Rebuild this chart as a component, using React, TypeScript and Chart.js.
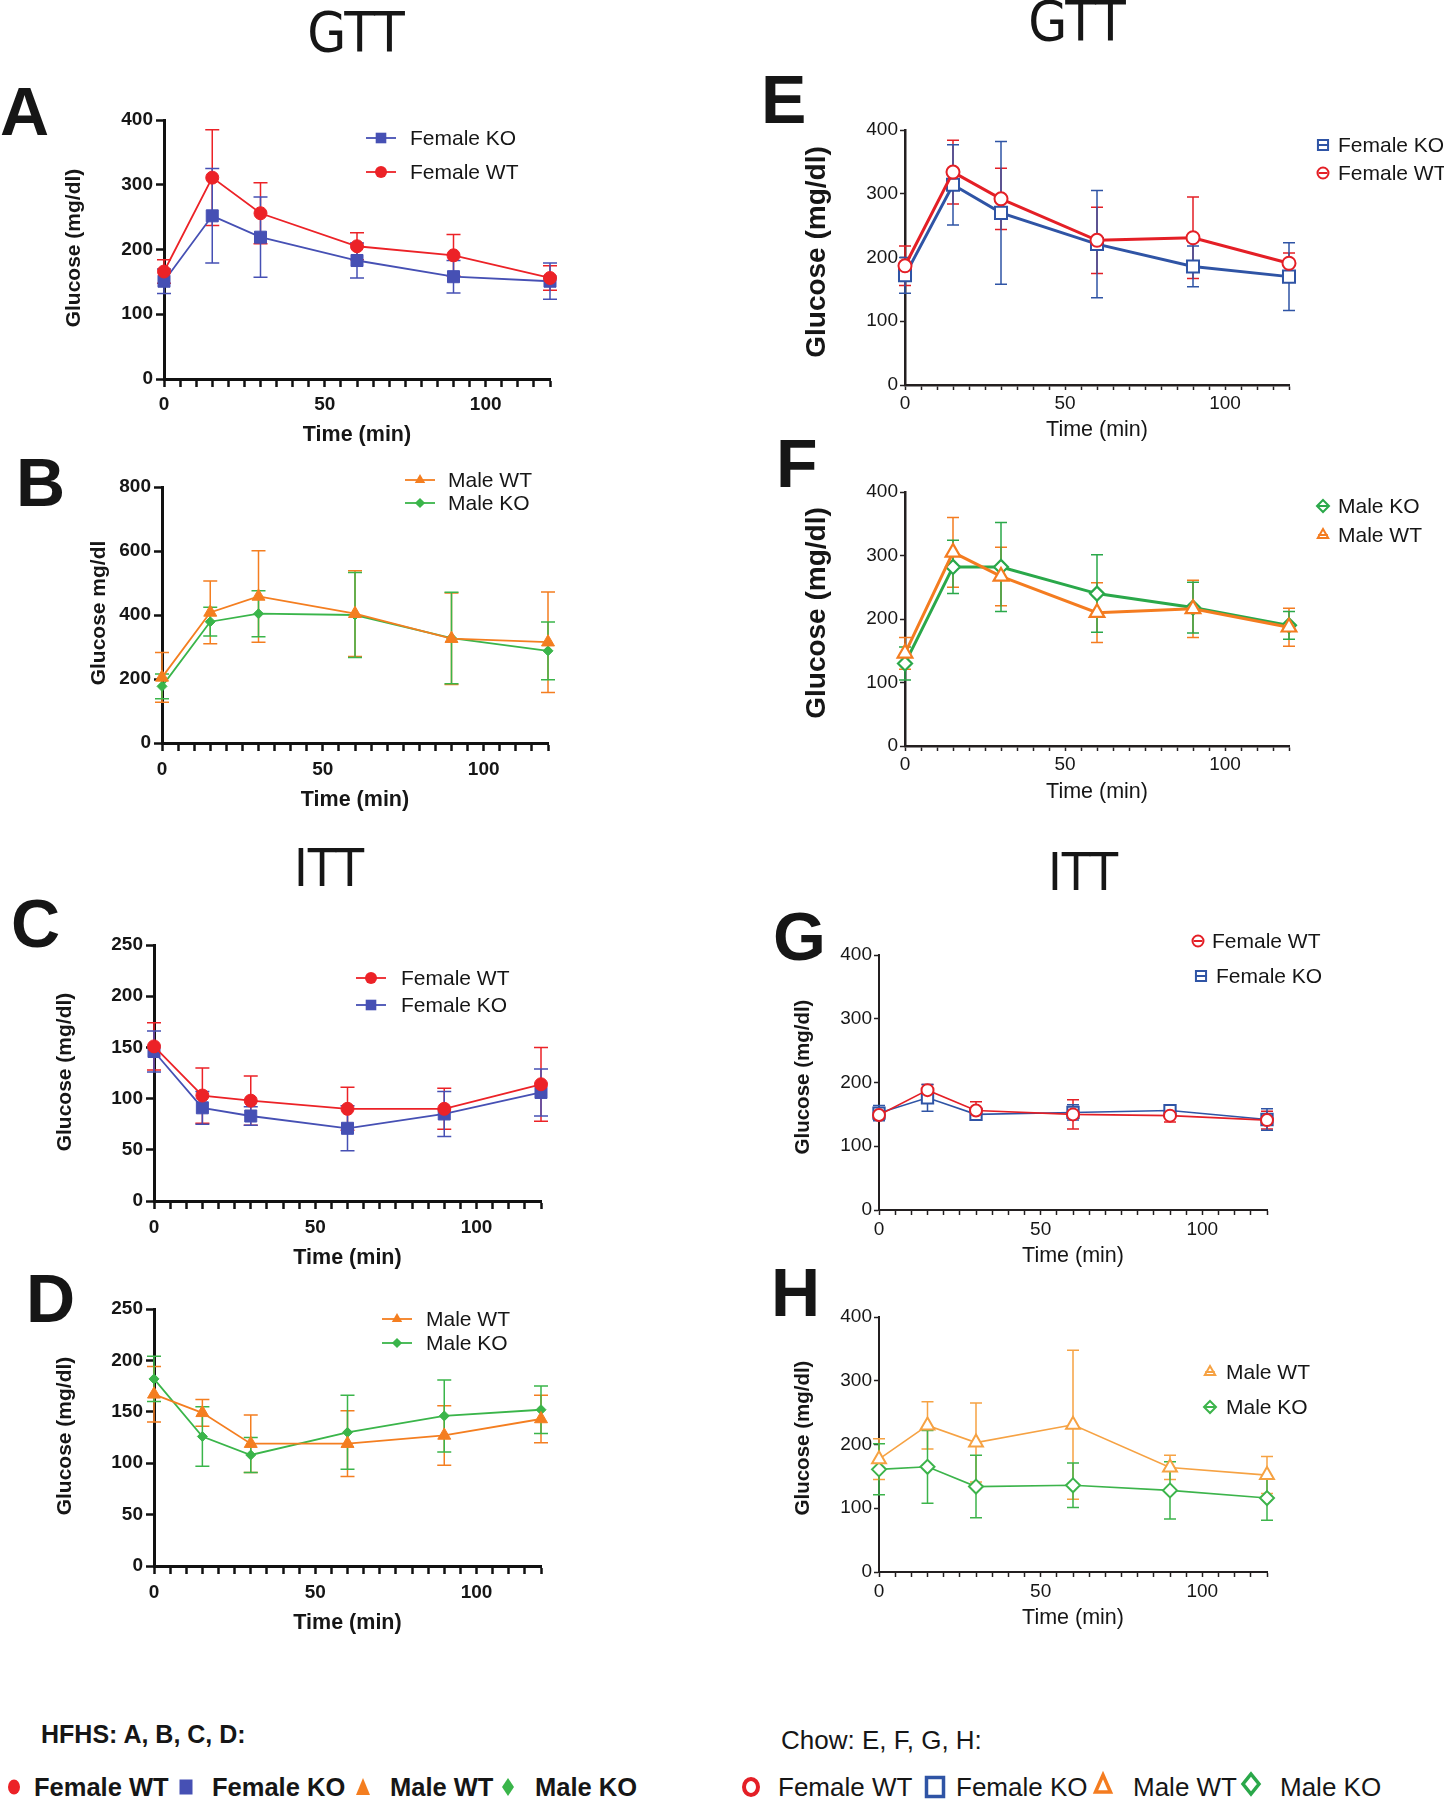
import React, { useEffect, useRef } from "react";
import { Chart, registerables } from "chart.js";

Chart.register(...registerables);

// ---------------- data ----------------
const timeMin = [0, 15, 30, 60, 90, 120];
const xTickLabels = [0, 50, 100];
const xTitle = "Time (min)";

// A: HFHS GTT, females
const aFemaleKO = [151, 252, 219, 183, 158, 151];
const aFemaleKOSd = [19, 73, 62, 27, 25, 28];
const aFemaleWT = [166, 311, 256, 205, 191, 156];
const aFemaleWTSd = [18, 74, 47, 21, 32, 19];

// B: HFHS GTT, males
const bMaleWT = [205, 408, 458, 404, 326, 315];
const bMaleWTSd = [78, 98, 143, 134, 143, 157];
const bMaleKO = [177, 379, 404, 400, 328, 288];
const bMaleKOSd = [39, 45, 72, 133, 143, 90];

// C: HFHS ITT, females
const cFemaleWT = [151, 103, 98, 90, 90, 114];
const cFemaleWTSd = [23, 27, 24, 21, 20, 36];
const cFemaleKO = [146, 91, 83, 71, 85, 106];
const cFemaleKOSd = [20, 16, 9, 22, 22, 23];

// D: HFHS ITT, males
const dMaleWT = [167, 149, 119, 119, 127, 143];
const dMaleWTSd = [27, 13, 28, 32, 29, 23];
const dMaleKO = [182, 126, 108, 130, 146, 152];
const dMaleKOSd = [22, 29, 17, 36, 35, 23];

// E: Chow GTT, females
const eFemaleKO = [172, 314, 270, 221, 186, 170];
const eFemaleKOSd = [28, 63, 112, 84, 32, 53];
const eFemaleWT = [187, 334, 292, 227, 231, 191];
const eFemaleWTSd = [31, 50, 48, 52, 64, 16];

// F: Chow GTT, males
const fMaleKO = [130, 282, 282, 240, 218, 190];
const fMaleKOSd = [26, 42, 70, 61, 40, 22];
const fMaleWT = [146, 305, 267, 210, 216, 187];
const fMaleWTSd = [25, 55, 46, 47, 45, 30];

// G: Chow ITT, females
const gFemaleWT = [149, 188, 156, 150, 148, 141];
const gFemaleWTSd = [8, 9, 14, 23, 10, 14];
const gFemaleKO = [152, 176, 150, 153, 156, 142];
const gFemaleKOSd = [12, 21, 9, 12, 7, 17];

// H: Chow ITT, males
const hMaleWT = [177, 230, 203, 231, 164, 152];
const hMaleWTSd = [32, 37, 62, 117, 19, 29];
const hMaleKO = [161, 165, 134, 136, 128, 116];
const hMaleKOSd = [40, 57, 49, 35, 45, 35];

// y-axis ranges
const yMaxGTT = 400;
const yStepGTT = 100;
const yMaxB = 800;
const yStepB = 200;
const yMaxITTHfhs = 250;
const yStepITTHfhs = 50;

// ---------------- styles ----------------
const FONT = "'Liberation Sans', Arial, Helvetica, sans-serif";
const NARROW = "'Liberation Sans Narrow', 'Arial Narrow', 'DejaVu Sans Condensed', sans-serif";
const INK = "#161616";

const C_RED = "#ec2227";
const C_BLUE = "#4650b4";
const C_ORANGE = "#f47e20";
const C_GREEN = "#3ab54a";
const K_RED = "#e41f26";
const K_BLUE = "#2f54a5";
const K_ORANGE = "#f47c20";
const K_GREEN = "#2aa84a";
const K_ORANGE_H = "#f6a243";
const K_GREEN_H = "#3cb44b";

type Shape = "circle" | "rect" | "triangle" | "rectRot";

type SeriesSpec = {
  label: string;
  values: number[];
  sd: number[];
  color: string;
  shape: Shape;
  radius: number;
  open: boolean;
};

type LegendItem = { series: number; mx: number; my: number; tx: number };

type PanelSpec = {
  id: string;
  style: "hfhs" | "chow";
  box: [number, number, number, number];
  plot: [number, number, number, number];
  yMax: number;
  yStep: number;
  yTitle: string;
  yTitlePos: [number, number];
  yTitleSize: number;
  xTitleY: number;
  xTitleSize: number;
  tickSize: number;
  xTickPad: number;
  yTickPad: number;
  tickLength: number;
  borderWidth: number;
  lineWidth: number;
  errWidth: number;
  cap: number;
  pointBorder: number;
  series: SeriesSpec[];
  legend: LegendItem[];
  legendSize: number;
  legendR: number;
};

const panels: PanelSpec[] = [
  {
    id: "A", style: "hfhs",
    box: [40, 90, 620, 462], plot: [164, 120, 550, 379],
    yMax: yMaxGTT, yStep: yStepGTT,
    yTitle: "Glucose (mg/dl)", yTitlePos: [74, 248], yTitleSize: 21,
    xTitleY: 435, xTitleSize: 21.5, tickSize: 19, xTickPad: 6, yTickPad: 3,
    tickLength: 8, borderWidth: 3, lineWidth: 1.8, errWidth: 1.5, cap: 7, pointBorder: 1,
    series: [
      { label: "Female WT", values: aFemaleWT, sd: aFemaleWTSd, color: C_RED, shape: "circle", radius: 6.5, open: false },
      { label: "Female KO", values: aFemaleKO, sd: aFemaleKOSd, color: C_BLUE, shape: "rect", radius: 8.5, open: false },
    ],
    legend: [
      { series: 1, mx: 381, my: 138, tx: 410 },
      { series: 0, mx: 381, my: 172, tx: 410 },
    ],
    legendSize: 21, legendR: 6,
  },
  {
    id: "B", style: "hfhs",
    box: [60, 462, 620, 826], plot: [162, 487, 548, 743],
    yMax: yMaxB, yStep: yStepB,
    yTitle: "Glucose mg/dl", yTitlePos: [99, 613], yTitleSize: 21,
    xTitleY: 800, xTitleSize: 21.5, tickSize: 19, xTickPad: 7, yTickPad: 3,
    tickLength: 8, borderWidth: 3, lineWidth: 1.8, errWidth: 1.5, cap: 7, pointBorder: 1,
    series: [
      { label: "Male WT", values: bMaleWT, sd: bMaleWTSd, color: C_ORANGE, shape: "triangle", radius: 7.5, open: false },
      { label: "Male KO", values: bMaleKO, sd: bMaleKOSd, color: C_GREEN, shape: "rectRot", radius: 5, open: false },
    ],
    legend: [
      { series: 0, mx: 420, my: 480, tx: 448 },
      { series: 1, mx: 420, my: 503, tx: 448 },
    ],
    legendSize: 21, legendR: 6,
  },
  {
    id: "C", style: "hfhs",
    box: [30, 915, 620, 1282], plot: [154, 945, 541, 1201],
    yMax: yMaxITTHfhs, yStep: yStepITTHfhs,
    yTitle: "Glucose (mg/dl)", yTitlePos: [65, 1072], yTitleSize: 21,
    xTitleY: 1258, xTitleSize: 21.5, tickSize: 19, xTickPad: 7, yTickPad: 3,
    tickLength: 8, borderWidth: 3, lineWidth: 1.8, errWidth: 1.5, cap: 7, pointBorder: 1,
    series: [
      { label: "Female WT", values: cFemaleWT, sd: cFemaleWTSd, color: C_RED, shape: "circle", radius: 6.5, open: false },
      { label: "Female KO", values: cFemaleKO, sd: cFemaleKOSd, color: C_BLUE, shape: "rect", radius: 8.5, open: false },
    ],
    legend: [
      { series: 0, mx: 371, my: 978, tx: 401 },
      { series: 1, mx: 371, my: 1005, tx: 401 },
    ],
    legendSize: 21, legendR: 6,
  },
  {
    id: "D", style: "hfhs",
    box: [30, 1282, 620, 1650], plot: [154, 1309, 541, 1566],
    yMax: yMaxITTHfhs, yStep: yStepITTHfhs,
    yTitle: "Glucose (mg/dl)", yTitlePos: [65, 1436], yTitleSize: 21,
    xTitleY: 1623, xTitleSize: 21.5, tickSize: 19, xTickPad: 7, yTickPad: 3,
    tickLength: 8, borderWidth: 3, lineWidth: 1.8, errWidth: 1.5, cap: 7, pointBorder: 1,
    series: [
      { label: "Male WT", values: dMaleWT, sd: dMaleWTSd, color: C_ORANGE, shape: "triangle", radius: 7.5, open: false },
      { label: "Male KO", values: dMaleKO, sd: dMaleKOSd, color: C_GREEN, shape: "rectRot", radius: 5, open: false },
    ],
    legend: [
      { series: 0, mx: 397, my: 1319, tx: 426 },
      { series: 1, mx: 397, my: 1343, tx: 426 },
    ],
    legendSize: 21, legendR: 6,
  },
  {
    id: "E", style: "chow",
    box: [780, 100, 1444, 455], plot: [905, 130, 1289, 385],
    yMax: yMaxGTT, yStep: yStepGTT,
    yTitle: "Glucose (mg/dl)", yTitlePos: [817, 252], yTitleSize: 28,
    xTitleY: 430, xTitleSize: 21.5, tickSize: 19, xTickPad: 2, yTickPad: 2,
    tickLength: 5, borderWidth: 2.5, lineWidth: 3, errWidth: 1.5, cap: 6, pointBorder: 2,
    series: [
      { label: "Female WT", values: eFemaleWT, sd: eFemaleWTSd, color: K_RED, shape: "circle", radius: 6.5, open: true },
      { label: "Female KO", values: eFemaleKO, sd: eFemaleKOSd, color: K_BLUE, shape: "rect", radius: 8.5, open: true },
    ],
    legend: [
      { series: 1, mx: 1323, my: 145, tx: 1338 },
      { series: 0, mx: 1323, my: 173, tx: 1338 },
    ],
    legendSize: 21, legendR: 5.5,
  },
  {
    id: "F", style: "chow",
    box: [780, 460, 1444, 815], plot: [905, 492, 1289, 746],
    yMax: yMaxGTT, yStep: yStepGTT,
    yTitle: "Glucose (mg/dl)", yTitlePos: [817, 613], yTitleSize: 28,
    xTitleY: 792, xTitleSize: 21.5, tickSize: 19, xTickPad: 2, yTickPad: 2,
    tickLength: 5, borderWidth: 2.5, lineWidth: 3, errWidth: 1.5, cap: 6, pointBorder: 2.2,
    series: [
      { label: "Male WT", values: fMaleWT, sd: fMaleWTSd, color: K_ORANGE, shape: "triangle", radius: 8.5, open: true },
      { label: "Male KO", values: fMaleKO, sd: fMaleKOSd, color: K_GREEN, shape: "rectRot", radius: 7, open: true },
    ],
    legend: [
      { series: 1, mx: 1323, my: 506, tx: 1338 },
      { series: 0, mx: 1323, my: 535, tx: 1338 },
    ],
    legendSize: 21, legendR: 6,
  },
  {
    id: "G", style: "chow",
    box: [770, 925, 1444, 1285], plot: [879, 955, 1267, 1210],
    yMax: yMaxGTT, yStep: yStepGTT,
    yTitle: "Glucose (mg/dl)", yTitlePos: [803, 1077], yTitleSize: 20.5,
    xTitleY: 1256, xTitleSize: 21.5, tickSize: 19, xTickPad: 3, yTickPad: 2,
    tickLength: 5, borderWidth: 2, lineWidth: 1.6, errWidth: 1.5, cap: 6, pointBorder: 2,
    series: [
      { label: "Female WT", values: gFemaleWT, sd: gFemaleWTSd, color: K_RED, shape: "circle", radius: 6, open: true },
      { label: "Female KO", values: gFemaleKO, sd: gFemaleKOSd, color: K_BLUE, shape: "rect", radius: 8, open: true },
    ],
    legend: [
      { series: 0, mx: 1198, my: 941, tx: 1212 },
      { series: 1, mx: 1201, my: 976, tx: 1216 },
    ],
    legendSize: 21, legendR: 5.5,
  },
  {
    id: "H", style: "chow",
    box: [770, 1290, 1444, 1650], plot: [879, 1317, 1267, 1572],
    yMax: yMaxGTT, yStep: yStepGTT,
    yTitle: "Glucose (mg/dl)", yTitlePos: [803, 1438], yTitleSize: 20.5,
    xTitleY: 1618, xTitleSize: 21.5, tickSize: 19, xTickPad: 3, yTickPad: 2,
    tickLength: 5, borderWidth: 2, lineWidth: 1.6, errWidth: 1.5, cap: 6, pointBorder: 2,
    series: [
      { label: "Male WT", values: hMaleWT, sd: hMaleWTSd, color: K_ORANGE_H, shape: "triangle", radius: 8, open: true },
      { label: "Male KO", values: hMaleKO, sd: hMaleKOSd, color: K_GREEN_H, shape: "rectRot", radius: 7, open: true },
    ],
    legend: [
      { series: 0, mx: 1210, my: 1372, tx: 1226 },
      { series: 1, mx: 1210, my: 1407, tx: 1226 },
    ],
    legendSize: 21, legendR: 6,
  },
];

// ---------------- drawing helpers ----------------
function pathMarker(ctx: CanvasRenderingContext2D, shape: Shape, x: number, y: number, r: number) {
  ctx.beginPath();
  if (shape === "circle") {
    ctx.arc(x, y, r, 0, Math.PI * 2);
  } else if (shape === "rect") {
    const s = r * Math.SQRT1_2;
    ctx.rect(x - s, y - s, 2 * s, 2 * s);
  } else if (shape === "triangle") {
    let a = 0;
    ctx.moveTo(x + Math.sin(a) * r, y - Math.cos(a) * r);
    a += (2 * Math.PI) / 3;
    ctx.lineTo(x + Math.sin(a) * r, y - Math.cos(a) * r);
    a += (2 * Math.PI) / 3;
    ctx.lineTo(x + Math.sin(a) * r, y - Math.cos(a) * r);
    ctx.closePath();
  } else {
    ctx.moveTo(x, y - r);
    ctx.lineTo(x + r, y);
    ctx.lineTo(x, y + r);
    ctx.lineTo(x - r, y);
    ctx.closePath();
  }
}

function PanelChart({ spec }: { spec: PanelSpec }) {
  const ref = useRef<HTMLCanvasElement | null>(null);
  const [bl, bt, br, bb] = spec.box;
  const [pl, pt, pr, pb] = spec.plot;
  const w = br - bl;
  const h = bb - bt;

  useEffect(() => {
    if (!ref.current) return;
    const hf = spec.style === "hfhs";
    const axisColor = hf ? "#111111" : "#231f20";
    const tickFont = { family: FONT, size: spec.tickSize, weight: hf ? ("bold" as const) : ("normal" as const) };

    const errorBars = {
      id: "errorBars",
      beforeDatasetsDraw(chart: any) {
        const ctx: CanvasRenderingContext2D = chart.ctx;
        const ys = chart.scales.y;
        spec.series.forEach((s, i) => {
          const meta = chart.getDatasetMeta(i);
          ctx.save();
          ctx.strokeStyle = s.color;
          ctx.lineWidth = spec.errWidth;
          meta.data.forEach((p: any, j: number) => {
            const x = p.x;
            const yt = ys.getPixelForValue(s.values[j] + s.sd[j]);
            const yb = ys.getPixelForValue(s.values[j] - s.sd[j]);
            ctx.beginPath();
            ctx.moveTo(x, yt);
            ctx.lineTo(x, yb);
            ctx.moveTo(x - spec.cap, yt);
            ctx.lineTo(x + spec.cap, yt);
            ctx.moveTo(x - spec.cap, yb);
            ctx.lineTo(x + spec.cap, yb);
            ctx.stroke();
          });
          ctx.restore();
        });
      },
    };

    const decor = {
      id: "decor",
      afterDraw(chart: any) {
        const ctx: CanvasRenderingContext2D = chart.ctx;
        const { left, right } = chart.chartArea;
        ctx.save();
        ctx.fillStyle = INK;
        // y title
        ctx.save();
        ctx.translate(spec.yTitlePos[0] - bl, spec.yTitlePos[1] - bt);
        ctx.rotate(-Math.PI / 2);
        ctx.font = `bold ${spec.yTitleSize}px ${FONT}`;
        ctx.textAlign = "center";
        ctx.textBaseline = "middle";
        ctx.fillText(spec.yTitle, 0, 0);
        ctx.restore();
        // x title
        ctx.font = `${hf ? "bold " : ""}${spec.xTitleSize}px ${FONT}`;
        ctx.textAlign = "center";
        ctx.textBaseline = "middle";
        ctx.fillText(xTitle, (left + right) / 2, spec.xTitleY - bt);
        // legend
        spec.legend.forEach((it) => {
          const s = spec.series[it.series];
          const mx = it.mx - bl;
          const my = it.my - bt;
          if (hf) {
            ctx.strokeStyle = s.color;
            ctx.lineWidth = spec.lineWidth;
            ctx.beginPath();
            ctx.moveTo(mx - 15, my);
            ctx.lineTo(mx + 15, my);
            ctx.stroke();
            const r = s.shape === "rect" ? spec.legendR * 1.25 : s.shape === "rectRot" ? spec.legendR * 0.85 : spec.legendR;
            pathMarker(ctx, s.shape, mx, my, r);
            ctx.fillStyle = s.color;
            ctx.fill();
          } else {
            const r = s.shape === "rect" ? spec.legendR * 1.3 : spec.legendR;
            pathMarker(ctx, s.shape, mx, my, r);
            ctx.fillStyle = "#ffffff";
            ctx.fill();
            ctx.strokeStyle = s.color;
            ctx.lineWidth = 2;
            ctx.stroke();
            const hw = s.shape === "rect" ? r * Math.SQRT1_2 : r * 0.8;
            ctx.beginPath();
            ctx.moveTo(mx - hw, my);
            ctx.lineTo(mx + hw, my);
            ctx.stroke();
          }
          ctx.fillStyle = INK;
          ctx.font = `${spec.legendSize}px ${FONT}`;
          ctx.textAlign = "left";
          ctx.textBaseline = "middle";
          ctx.fillText(s.label, it.tx - bl, my + 1);
        });
        ctx.restore();
      },
    };

    const chart = new Chart(ref.current, {
      type: "line",
      data: {
        datasets: spec.series.map((s) => ({
          label: s.label,
          data: timeMin.map((t, i) => ({ x: t, y: s.values[i] })),
          borderColor: s.color,
          borderWidth: spec.lineWidth,
          backgroundColor: s.color,
          pointStyle: s.shape,
          pointRadius: s.radius,
          pointBackgroundColor: s.open ? "#ffffff" : s.color,
          pointBorderColor: s.color,
          pointBorderWidth: spec.pointBorder,
          fill: false,
          tension: 0,
          clip: false as any,
        })),
      },
      options: {
        animation: false,
        responsive: false,
        maintainAspectRatio: false,
        events: [],
        layout: { padding: { left: 0, top: pt - bt, right: br - pr, bottom: 0 } },
        plugins: {
          legend: { display: false },
          tooltip: { enabled: false },
          title: { display: false },
        },
        scales: {
          x: {
            type: "linear",
            min: 0,
            max: 120,
            afterFit: (s: any) => {
              s.height = bb - pb;
            },
            ticks: {
              stepSize: 5,
              autoSkip: false,
              maxRotation: 0,
              padding: spec.xTickPad,
              color: INK,
              font: tickFont,
              callback: (v: any) => (xTickLabels.includes(Number(v)) ? String(v) : ""),
            },
            grid: {
              drawOnChartArea: false,
              drawTicks: true,
              tickLength: spec.tickLength,
              tickWidth: hf ? 2.5 : 1.5,
              tickColor: axisColor,
            },
            border: { display: true, color: axisColor, width: spec.borderWidth },
            title: { display: false },
          },
          y: {
            type: "linear",
            min: 0,
            max: spec.yMax,
            afterFit: (s: any) => {
              s.width = pl - bl;
            },
            ticks: {
              stepSize: spec.yStep,
              padding: spec.yTickPad,
              color: INK,
              font: tickFont,
            },
            grid: {
              drawOnChartArea: false,
              drawTicks: true,
              tickLength: spec.tickLength,
              tickWidth: hf ? 2.5 : 1.5,
              tickColor: axisColor,
            },
            border: { display: true, color: axisColor, width: spec.borderWidth },
            title: { display: false },
          },
        },
      },
      plugins: [errorBars, decor],
    } as any);
    return () => chart.destroy();
  }, [spec]);

  return (
    <canvas
      ref={ref}
      width={w}
      height={h}
      style={{ position: "absolute", left: bl, top: bt, width: w, height: h }}
    />
  );
}

// ---------------- static text ----------------
function Txt(props: {
  text: string;
  x: number;
  cy: number;
  size: number;
  weight?: string;
  family?: string;
  center?: boolean;
}) {
  const { text, x, cy, size, weight = "normal", family = FONT, center = false } = props;
  const style: React.CSSProperties = {
    position: "absolute",
    top: cy - 0.4885 * size,
    fontSize: size,
    lineHeight: `${size}px`,
    fontWeight: weight as any,
    fontFamily: family,
    color: INK,
    whiteSpace: "nowrap",
  };
  if (center) {
    style.left = x - 300;
    style.width = 600;
    style.textAlign = "center";
  } else {
    style.left = x;
  }
  return <div style={style}>{text}</div>;
}

const panelLetters: { t: string; x: number; cy: number }[] = [
  { t: "A", x: 0, cy: 110 },
  { t: "B", x: 16, cy: 481 },
  { t: "C", x: 11, cy: 922 },
  { t: "D", x: 26, cy: 1297 },
  { t: "E", x: 761, cy: 98 },
  { t: "F", x: 776, cy: 462 },
  { t: "G", x: 773, cy: 935 },
  { t: "H", x: 771, cy: 1291 },
];

function Mk({ x, y, children }: { x: number; y: number; children: React.ReactNode }) {
  return (
    <svg
      width={26}
      height={26}
      viewBox="-13 -13 26 26"
      style={{ position: "absolute", left: x - 13, top: y - 13, overflow: "visible" }}
    >
      {children}
    </svg>
  );
}

export default function App() {
  const legY = 1787;
  return (
    <div
      style={{
        position: "absolute",
        left: 0,
        top: 0,
        width: 1444,
        height: 1800,
        background: "#ffffff",
        overflow: "hidden",
        fontFamily: FONT,
      }}
    >
      <Txt text="GTT" x={356} cy={31} size={56} family={NARROW} center />
      <Txt text="GTT" x={1077} cy={20} size={56} family={NARROW} center />
      <Txt text="ITT" x={329} cy={867} size={52} family={NARROW} center />
      <Txt text="ITT" x={1083} cy={871} size={52} family={NARROW} center />
      {panelLetters.map((l) => (
        <Txt key={l.t} text={l.t} x={l.x} cy={l.cy} size={68} weight="bold" />
      ))}

      {panels.map((p) => (
        <PanelChart key={p.id} spec={p} />
      ))}

      <Txt text="HFHS: A, B, C, D:" x={41} cy={1734} size={25} weight="bold" />
      <Txt text="Chow: E, F, G, H:" x={781} cy={1740} size={26} />

      <Mk x={14} y={legY}>
        <ellipse cx={0} cy={0} rx={6} ry={7.5} fill={C_RED} />
      </Mk>
      <Txt text="Female WT" x={34} cy={legY} size={25.5} weight="bold" />
      <Mk x={186} y={legY}>
        <rect x={-6.5} y={-7.5} width={13} height={15} fill={C_BLUE} />
      </Mk>
      <Txt text="Female KO" x={212} cy={legY} size={25.5} weight="bold" />
      <Mk x={363} y={legY}>
        <polygon points="0,-9 7,8 -7,8" fill={C_ORANGE} />
      </Mk>
      <Txt text="Male WT" x={390} cy={legY} size={25.5} weight="bold" />
      <Mk x={508} y={legY}>
        <polygon points="0,-9 6,0 0,9 -6,0" fill={C_GREEN} />
      </Mk>
      <Txt text="Male KO" x={535} cy={legY} size={25.5} weight="bold" />

      <Mk x={751} y={legY}>
        <ellipse cx={0} cy={0} rx={7} ry={8} fill="none" stroke={K_RED} strokeWidth={4} />
      </Mk>
      <Txt text="Female WT" x={778} cy={legY} size={26} />
      <Mk x={935} y={legY}>
        <rect x={-8.5} y={-9.5} width={17} height={19} fill="none" stroke={K_BLUE} strokeWidth={3.5} />
      </Mk>
      <Txt text="Female KO" x={956} cy={legY} size={26} />
      <Mk x={1103} y={legY - 3}>
        <polygon points="0,-9 7.5,8 -7.5,8" fill="none" stroke={K_ORANGE} strokeWidth={3.5} strokeLinejoin="miter" />
      </Mk>
      <Txt text="Male WT" x={1133} cy={legY} size={26} />
      <Mk x={1251} y={legY - 3}>
        <polygon points="0,-10 8,0 0,10 -8,0" fill="none" stroke={K_GREEN} strokeWidth={3.5} />
      </Mk>
      <Txt text="Male KO" x={1280} cy={legY} size={26} />
    </div>
  );
}
